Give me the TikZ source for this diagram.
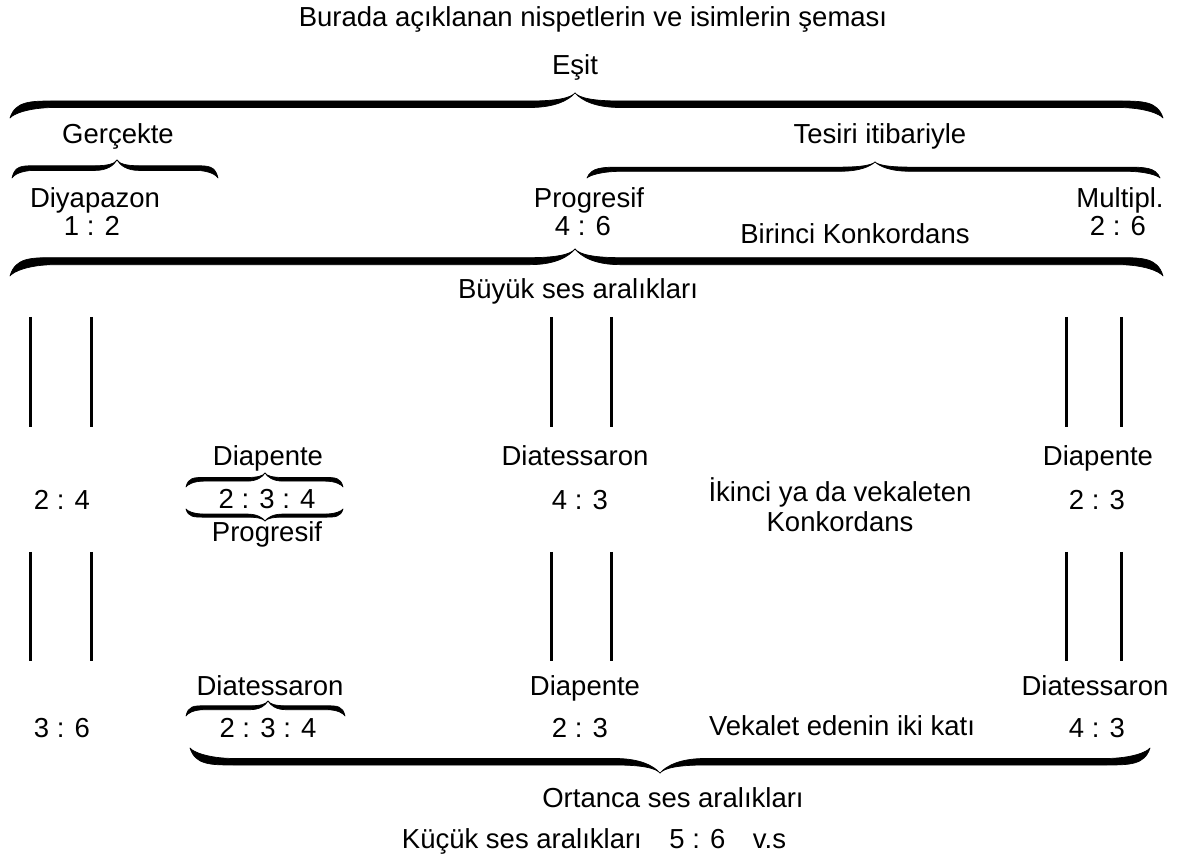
\documentclass[tikz,border=0pt]{standalone}
\usepackage{fontspec}
\setmainfont{Liberation Sans}
\newcommand{\mybrace}[6]{% x1, x2, xt, ytip, yend, d
  \pgfmathsetmacro{\hh}{#5-#4}%
  \pgfmathsetmacro{\yb}{#4+0.45*\hh}%
  \pgfmathsetmacro{\yA}{\yb-0.13*\hh}%
  \pgfmathsetmacro{\yB}{\yb+0.13*\hh}%
  \pgfmathsetmacro{\yT}{#4+0.2*\hh}%
  \pgfmathsetmacro{\yTT}{#4+0.3*\hh}%
  \pgfmathsetmacro{\yE}{#5-0.15*\hh}%
  \filldraw[bracestyle] (#1,#5) .. controls ({#1+0.12*#6},\yA) and ({#1+0.45*#6},\yA) .. ({#1+#6},\yA)
    -- ({#3-#6},\yA) .. controls ({#3-0.4*#6},\yA) and ({#3-0.1*#6},\yT) .. (#3,#4)
    .. controls ({#3-0.15*#6},\yTT) and ({#3-0.45*#6},\yB) .. ({#3-#6},\yB)
    -- ({#1+#6},\yB) .. controls ({#1+0.4*#6},\yB) and ({#1+0.06*#6},\yE) .. (#1,#5) -- cycle;
  \filldraw[bracestyle] (#2,#5) .. controls ({#2-0.12*#6},\yA) and ({#2-0.45*#6},\yA) .. ({#2-#6},\yA)
    -- ({#3+#6},\yA) .. controls ({#3+0.4*#6},\yA) and ({#3+0.1*#6},\yT) .. (#3,#4)
    .. controls ({#3+0.15*#6},\yTT) and ({#3+0.45*#6},\yB) .. ({#3+#6},\yB)
    -- ({#2-#6},\yB) .. controls ({#2-0.4*#6},\yB) and ({#2-0.06*#6},\yE) .. (#2,#5) -- cycle;
}
\begin{document}
\begin{tikzpicture}[x=1pt,y=-1pt,
  lbl/.style={anchor=base,inner sep=0pt,font=\fontsize{27.5}{32}\selectfont},
  bracestyle/.style={black,line width=0.7pt,line join=round},
  bar/.style={line width=3pt}]
\useasboundingbox (0,0) rectangle (1179,858);
% texts
\node[lbl] (title) at (593,27) {Burada açıklanan nispetlerin ve isimlerin şeması};
\node[lbl] (esit) at (575,75) {Eşit};
\node[lbl] (gercekte) at (118,144) {Gerçekte};
\node[lbl] (tesiri) at (880,144) {Tesiri itibariyle};
\node[lbl] (diyapazon) at (95,208) {Diyapazon};
\node[lbl] (r12) at (92,236) {1 : 2};
\node[lbl] (progresifA) at (589,208) {Progresif};
\node[lbl] (r46) at (583,236) {4 : 6};
\node[lbl] (multipl) at (1120,208) {Multipl.};
\node[lbl] (r26) at (1118,236) {2 : 6};
\node[lbl] (birinci) at (855,244) {Birinci Konkordans};
\node[lbl] (buyuk) at (578,299) {Büyük ses aralıkları};
% row 2
\node[lbl] (r24) at (62,510) {2 : 4};
\node[lbl] (diapenteA) at (268,466) {Diapente};
\node[lbl] (r234a) at (267,509) {2 : 3 : 4};
\node[lbl] (progresifB) at (267,542) {Progresif};
\node[lbl] (diatessaronA) at (575,466) {Diatessaron};
\node[lbl] (r43a) at (580,510) {4 : 3};
\node[lbl] (ikinci) at (840,502) {İkinci ya da vekaleten};
\node[lbl] (konk) at (840,532) {Konkordans};
\node[lbl] (diapenteB) at (1098,466) {Diapente};
\node[lbl] (r23a) at (1097,510) {2 : 3};
% row 3
\node[lbl] (r36) at (62,737) {3 : 6};
\node[lbl] (diatessaronB) at (270,695) {Diatessaron};
\node[lbl] (r234b) at (268,737) {2 : 3 : 4};
\node[lbl] (diapenteC) at (585,695) {Diapente};
\node[lbl] (r23b) at (580,737) {2 : 3};
\node[lbl] (vekalet) at (842,735) {Vekalet edenin iki katı};
\node[lbl] (diatessaronC) at (1095,695) {Diatessaron};
\node[lbl] (r43b) at (1097,737) {4 : 3};
\node[lbl] (ortanca) at (673,807) {Ortanca ses aralıkları};
\node[lbl] (kucuk) at (594,848) {Küçük ses aralıkları\quad 5 : 6\quad v.s};
% braces
\mybrace{10}{1163}{575}{93}{118}{45}
\mybrace{12}{218}{117}{160}{178}{22}
\mybrace{587}{1160}{875}{162}{178}{35}
\mybrace{10}{1163}{575}{249}{276}{45}
\mybrace{186}{343}{265}{473}{487}{18}
\mybrace{186}{343}{265}{521}{509}{18}
\mybrace{186}{345}{268}{701}{716}{18}
\mybrace{190}{1150}{660}{773}{748}{45}
% vertical bars
\foreach \x in {30,91,551,611,1066,1121}{
  \draw[bar] (\x,317) -- (\x,427);
  \draw[bar] (\x,552) -- (\x,661);
}
\end{tikzpicture}
\end{document}
